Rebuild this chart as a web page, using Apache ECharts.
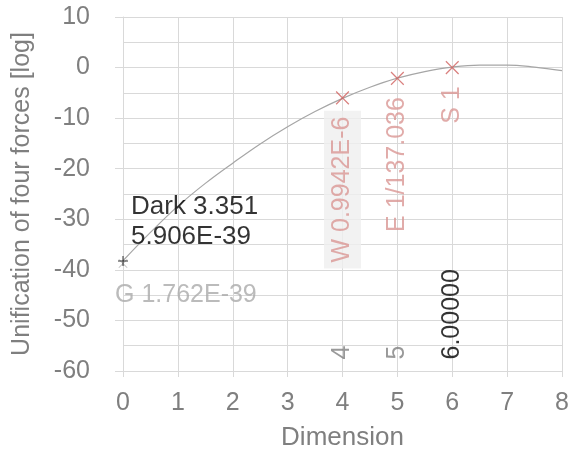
<!DOCTYPE html>
<html>
<head>
<meta charset="utf-8">
<script src="https://cdn.jsdelivr.net/npm/echarts@6/dist/echarts.min.js"></script>
<style>
html,body{margin:0;padding:0;background:#fff;}
#chart{width:569px;height:450px;}
</style>
</head>
<body>
<div id="chart"></div>
<script>
// ---- data ----
const curveX = [0, 0.5, 1, 1.5, 2, 2.5, 3, 3.5, 4, 4.5, 5, 5.5, 6, 6.5, 7, 7.5, 8];
const curveY = [-38.2, -32.6, -27.4, -22.9, -18.9, -15.1, -11.7, -8.7, -6.1, -3.9, -2.1, -0.8, 0.1, 0.5, 0.5, 0.1, -0.6];

const forceX = [4, 5, 6];
const forceY = [-6.0, -2.14, 0];
const forceLabels = ['W 0.9942E-6', 'E 1/137.036', 'S 1'];

const gravX = 0;
const gravY = -38.75;
const gravLabel = 'G 1.762E-39';

const darkX = 0;
const darkY = -38.23;
const darkLabel = 'Dark 3.351\n5.906E-39';

const dimX = [4, 5, 6];
const dimY = -60;
const dimLabels = ['4', '5', '6.00000'];

const xTicks = [0, 8, 1];
const yTicks = [-60, 10, 10];

// ---- styles ----
const FONT = 'Liberation Sans, Arial, sans-serif';
const GRID = '#d9d9d9';
const AXTXT = '#7f7f7f';
const plusPath = 'path://M-0.1,-1L0.1,-1L0.1,-0.1L1,-0.1L1,0.1L0.1,0.1L0.1,1L-0.1,1L-0.1,0.1L-1,0.1L-1,-0.1L-0.1,-0.1Z';
const thinPlus = 'path://M-0.07,-1L0.07,-1L0.07,-0.07L1,-0.07L1,0.07L0.07,0.07L0.07,1L-0.07,1L-0.07,0.07L-1,0.07L-1,-0.07L-0.07,-0.07Z';

const chart = echarts.init(document.getElementById('chart'), null, {renderer: 'canvas'});

const forceData = forceX.map((x, i) => {
  const item = {value: [x, forceY[i]]};
  if (i === 0) {
    item.label = {backgroundColor: '#efefef'};
  }
  return item;
});

const dimData = dimX.map((x, i) => {
  const item = {value: [x, dimY]};
  if (i === dimX.length - 1) item.label = {color: '#000000'};
  return item;
});

chart.setOption({
  animation: false,
  backgroundColor: '#ffffff',
  textStyle: {fontFamily: FONT},
  grid: {left: 123, right: 7, top: 17, bottom: 79, containLabel: false, outerBoundsMode: 'none'},
  xAxis: {
    type: 'value',
    min: xTicks[0], max: xTicks[1], interval: xTicks[2],
    name: 'Dimension',
    nameLocation: 'middle',
    nameGap: 54,
    nameTextStyle: {color: AXTXT, fontSize: 26, fontFamily: FONT},
    axisLine: {show: true, onZero: false, lineStyle: {color: GRID, width: 1}},
    axisTick: {show: true, length: 6, lineStyle: {color: GRID}},
    axisLabel: {color: AXTXT, fontSize: 25, margin: 20, fontFamily: FONT},
    splitLine: {show: true, lineStyle: {color: GRID, width: 1}}
  },
  yAxis: {
    type: 'value',
    min: yTicks[0], max: yTicks[1], interval: yTicks[2],
    name: 'Unification of four forces [log]',
    nameLocation: 'middle',
    nameGap: 88,
    nameTextStyle: {color: AXTXT, fontSize: 25, fontFamily: FONT},
    axisLine: {show: true, onZero: false, lineStyle: {color: GRID, width: 1}},
    axisTick: {show: true, length: 8, lineStyle: {color: GRID}},
    axisLabel: {color: AXTXT, fontSize: 25, margin: 33, fontFamily: FONT},
    splitLine: {show: true, lineStyle: {color: GRID, width: 1}},
    minorTick: {show: false, splitNumber: 2},
    minorSplitLine: {show: true, lineStyle: {color: GRID, width: 1}}
  },
  series: [
    {
      name: 'curve',
      type: 'line',
      data: curveX.map((x, i) => [x, curveY[i]]),
      smooth: 0.4,
      showSymbol: false,
      lineStyle: {color: '#a6a6a6', width: 1.2},
      z: 2
    },
    {
      name: 'G',
      type: 'scatter',
      data: [[gravX, gravY]],
      symbol: thinPlus,
      symbolSize: 12,
      symbolRotate: 45,
      itemStyle: {color: '#b0b0b0'},
      label: {
        show: true, formatter: gravLabel, position: 'bottom', distance: 23,
        align: 'left', verticalAlign: 'middle', offset: [-8, 0],
        color: '#aaaaaa', fontSize: 25, fontFamily: FONT
      },
      z: 3
    },
    {
      name: 'Dark',
      type: 'scatter',
      data: [[darkX, darkY]],
      symbol: plusPath,
      symbolSize: 10,
      itemStyle: {color: '#000000'},
      label: {
        show: true, formatter: darkLabel, position: 'top', distance: 4,
        align: 'left', verticalAlign: 'bottom', offset: [8, 0], lineHeight: 30,
        color: '#000000', fontSize: 26, fontFamily: FONT
      },
      z: 4
    },
    {
      name: 'forces',
      type: 'scatter',
      data: forceData,
      symbol: thinPlus,
      symbolSize: 18,
      symbolRotate: 45,
      itemStyle: {color: '#d0605e'},
      label: {
        show: true,
        formatter: (p) => forceLabels[p.dataIndex],
        position: 'bottom', distance: 0,
        rotate: 90, align: 'right', verticalAlign: 'middle',
        padding: [6, 6], lineHeight: 25,
        color: '#d99694', fontSize: 25, fontFamily: FONT
      },
      z: 4
    },
    {
      name: 'dims',
      type: 'scatter',
      data: dimData,
      symbol: 'circle',
      symbolSize: 1,
      itemStyle: {color: 'rgba(0,0,0,0)'},
      label: {
        show: true,
        formatter: (p) => dimLabels[p.dataIndex],
        position: 'top', distance: 11,
        rotate: 90, align: 'left', verticalAlign: 'middle',
        color: AXTXT, fontSize: 25, fontFamily: FONT
      },
      z: 4
    }
  ]
});
</script>
</body>
</html>
